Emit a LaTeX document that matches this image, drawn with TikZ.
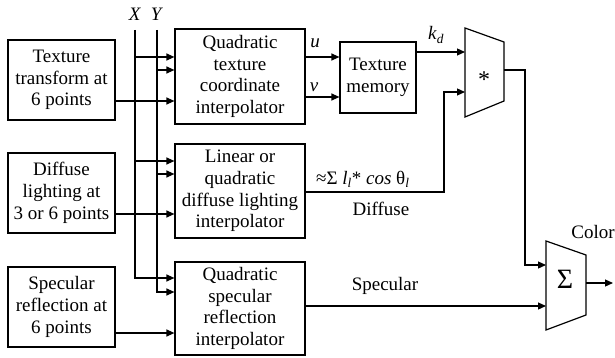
\documentclass[tikz,border=0pt]{standalone}
\usepackage{fontspec}
\newfontfamily\tms{LiberationSerif}[Extension=.ttf,UprightFont=*-Regular,ItalicFont=*-Italic,BoldFont=*-Bold]
\usetikzlibrary{arrows.meta,calc}
\begin{document}
\begin{tikzpicture}[x=1pt,y=-1pt,
  every node/.style={font=\tms\fontsize{19}{21.7}\selectfont},
  box/.style={draw,line width=1.2pt,align=center,inner sep=0pt},
  ln/.style={line width=1.2pt},
  arr/.style={line width=1.2pt,-{Triangle[length=8pt,width=7pt]}},
  lbl/.style={inner sep=0pt}]
\useasboundingbox (0,0) rectangle (615,358);
% left boxes
\node[box,minimum width=107pt,minimum height=80pt] (tt) at (61.5,80) {Texture\\transform at\\6 points};
\node[box,minimum width=107pt,minimum height=80pt] (dl) at (61.5,193) {Diffuse\\lighting at\\3 or 6 points};
\node[box,minimum width=107pt,minimum height=80pt] (sr) at (61.5,307) {Specular\\reflection at\\6 points};
% middle boxes
\node[box,minimum width=130pt,minimum height=95pt] (qt) at (240,76.5) {Quadratic\\texture\\coordinate\\interpolator};
\node[box,minimum width=130pt,minimum height=94pt] (li) at (240,191) {Linear or\\quadratic\\diffuse lighting\\interpolator};
\node[box,minimum width=130pt,minimum height=93pt] (si) at (240,308.5) {Quadratic\\specular\\reflection\\interpolator};
\node[box,minimum width=76pt,minimum height=71pt] (tm) at (378,77.5) {Texture\\memory};
% multiplier trapezoid
\coordinate (m1) at (465,28);
\coordinate (m2) at (504,42);
\coordinate (m3) at (504,101);
\coordinate (m4) at (465,117);
\draw[ln,line join=miter] (m1) -- (m2) -- (m3) -- (m4) -- cycle;
\node[lbl,font=\tms\fontsize{24}{24}\selectfont] (mul) at (484,80) {*};
% sum trapezoid
\coordinate (s1) at (546,241);
\coordinate (s2) at (586,255);
\coordinate (s3) at (586,315);
\coordinate (s4) at (546,330);
\draw[ln,line join=miter] (s1) -- (s2) -- (s3) -- (s4) -- cycle;
\node[lbl,font=\tms\fontsize{28}{28}\selectfont] (sum) at (565,279) {Σ};
% bus
\node[lbl] (xl) at (135,14) {\textit{X}};
\node[lbl] (yl) at (157,14) {\textit{Y}};
\coordinate (Xtop) at (135,30);
\coordinate (Ytop) at (157,30);
\draw[arr] (Xtop) |- (si.west |- 0,278);
\draw[arr] (Ytop) |- (si.west |- 0,292);
\draw[arr] (Xtop |- 0,57) -- (qt.west |- 0,57);
\draw[arr] (Ytop |- 0,70) -- (qt.west |- 0,70);
\draw[arr] (Xtop |- 0,161) -- (li.west |- 0,161);
\draw[arr] (Ytop |- 0,174) -- (li.west |- 0,174);
% inputs
\draw[arr] (tt.east |- 0,101) -- (qt.west |- 0,101);
\draw[arr] (dl.east |- 0,214) -- (li.west |- 0,214);
\draw[arr] (sr.east |- 0,333) -- (si.west |- 0,333);
% u v
\draw[arr] (qt.east |- 0,57) -- (tm.west |- 0,57);
\draw[arr] (qt.east |- 0,97) -- (tm.west |- 0,97);
\node[lbl] (ul) at (315,43) {\textit{u}};
\node[lbl] (vl) at (314,87) {\textit{v}};
% kd
\draw[arr] (tm.east |- 0,52) -- (m1 |- 0,52);
\node[lbl,anchor=base west] (kd) at (428,40) {\textit{k}\textsubscript{\textit{d}}};
% diffuse
\coordinate (dc) at (444,192);
\draw[arr] (li.east |- 0,192) -- (dc) |- (m1 |- 0,92);
\node[lbl,anchor=base west] (form) at (316,184) {≈Σ \textit{l}\textsubscript{\textit{l}}* \textit{cos} θ\textsubscript{\textit{l}}};
\node[lbl] (dif) at (381,209) {Diffuse};
% mult out
\coordinate (mo) at (525,70);
\draw[arr] (m2 |- 0,70) -- (mo) |- (s1 |- 0,265);
% specular
\draw[arr] (si.east |- 0,306) -- (s1 |- 0,306);
\node[lbl] (spl) at (385,286) {Specular};
% output
\coordinate (out) at (613,283);
\draw[arr] (s2 |- 0,283) -- (out);
\node[lbl] (col) at (593,232) {Color};
\end{tikzpicture}
\end{document}
